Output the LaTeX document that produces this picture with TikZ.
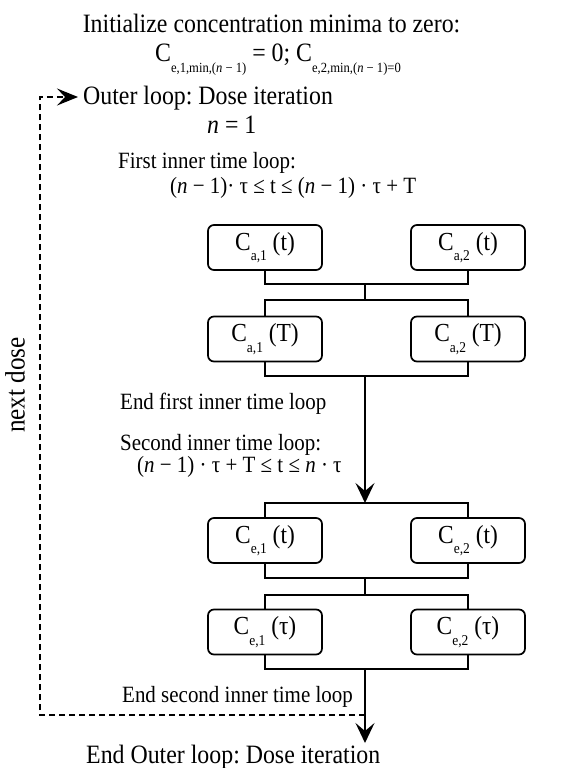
\documentclass[tikz,border=0pt]{standalone}
\usepackage{fontspec}
\setmainfont[FakeStretch=0.9]{Liberation Serif}
\usetikzlibrary{arrows.meta}
\frenchspacing
\newcommand{\lsub}[1]{\raisebox{-0.4em}{\fontsize{14}{14}\selectfont #1}}
\newcommand{\ssub}[1]{\raisebox{-0.4em}{\fontsize{15}{15}\selectfont #1}}
\begin{document}
\begin{tikzpicture}[x=1pt,y=-1pt,
  box/.style={draw, rounded corners=6pt, minimum width=114pt, minimum height=45pt, line width=1.7pt, inner sep=0pt, font=\fontsize{26}{29}\selectfont},
  conn/.style={line width=1.6pt},
  big/.style={inner sep=0pt, font=\fontsize{26.5}{30}\selectfont},
  mid/.style={inner sep=0pt, font=\fontsize{23.3}{27}\selectfont},
  arr/.style={-{Stealth[length=20pt,width=19pt,inset=8pt]}},
  dashline/.style={line width=1.5pt, dash pattern=on 6pt off 4pt},
  darr/.style={-{Stealth[length=21pt,width=17pt,inset=8pt]}}
]
\useasboundingbox (0,0) rectangle (563,768);
% texts
\node[big, anchor=base] (t1) at (271.5,33) {Initialize concentration minima to zero:};
\node[big, anchor=base] (t2) at (278,61.7) {C\lsub{e,1,min,(\textit{n} − 1)} = 0; C\lsub{e,2,min,(\textit{n} − 1)=0}};
\node[big, anchor=base west] (outer) at (83,104) {Outer loop: Dose iteration};
\node[big, anchor=base west] (n1) at (207,133) {\textit{n} = 1};
\node[mid, anchor=base west] (first) at (118,168) {First inner time loop:};
\node[mid, anchor=base west] (firstf) at (170,193) {(\textit{n} − 1)· τ ≤ t ≤ (\textit{n} − 1) · τ + T};
\node[mid, anchor=base west] (endfirst) at (120,409) {End first inner time loop};
\node[mid, anchor=base west] (second) at (120,450) {Second inner time loop:};
\node[mid, anchor=base west] (secondf) at (137,472) {(\textit{n} − 1) · τ + T ≤ t ≤ \textit{n} · τ};
\node[mid, anchor=base west] (endsecond) at (122,702) {End second inner time loop};
\node[big, anchor=base west] (endouter) at (86,763) {End Outer loop: Dose iteration};
\node[big, rotate=90, font=\fontsize{28}{30}\selectfont] (next) at (15,385) {next dose};
% boxes
\node[box] (a1) at (265,247.5) {C\ssub{a,1} (t)};
\node[box] (a2) at (468,247.5) {C\ssub{a,2} (t)};
\node[box] (b1) at (265,339) {C\ssub{a,1} (T)};
\node[box] (b2) at (468,339) {C\ssub{a,2} (T)};
\node[box] (c1) at (265,540.5) {C\ssub{e,1} (t)};
\node[box] (c2) at (468,540.5) {C\ssub{e,2} (t)};
\node[box] (d1) at (265,632) {C\ssub{e,1} (τ)};
\node[box] (d2) at (468,632) {C\ssub{e,2} (τ)};
% junctions
\coordinate (j1) at (365,284);
\coordinate (j2) at (365,300);
\coordinate (j3) at (365,376);
\coordinate (j4) at (365,503);
\coordinate (j5) at (365,578);
\coordinate (j6) at (365,595);
\coordinate (j7) at (365,669);
\coordinate (endtip) at (365,743);
\coordinate (dj) at (365,715);
\coordinate (dl) at (40,715);
\coordinate (dt) at (40,97);
\coordinate (dtip) at (78,97);
% connectors
\draw[conn] (a1.south) |- (j1) -| (a2.south);
\draw[conn] (j1) -- (j2);
\draw[conn] (b1.north) |- (j2) -| (b2.north);
\draw[conn] (b1.south) |- (j3) -| (b2.south);
\draw[conn, arr] (j3) -- (j4);
\draw[conn] (c1.north) |- (j4) -| (c2.north);
\draw[conn] (c1.south) |- (j5) -| (c2.south);
\draw[conn] (j5) -- (j6);
\draw[conn] (d1.north) |- (j6) -| (d2.north);
\draw[conn] (d1.south) |- (j7) -| (d2.south);
\draw[conn, arr] (j7) -- (endtip);
\draw[dashline, darr] (dj) -- (dl) -- (dt) -- (dtip);
\end{tikzpicture}
\end{document}
